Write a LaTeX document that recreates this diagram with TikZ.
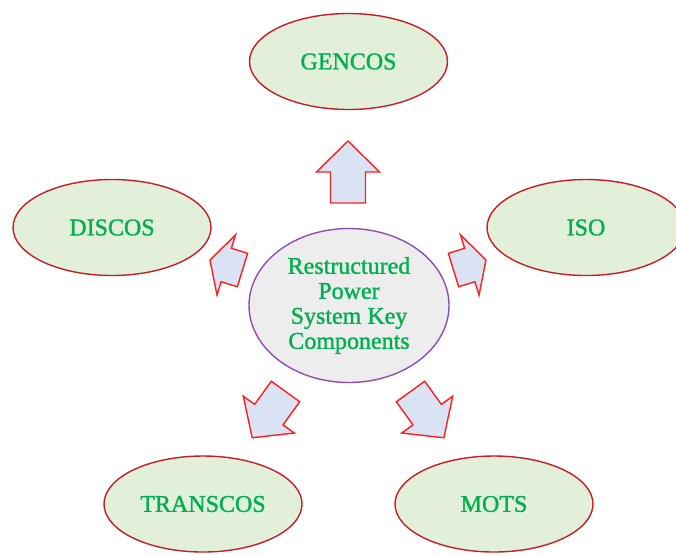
\documentclass[tikz,border=0pt]{standalone}
\usepackage{fontspec}
\setmainfont{Liberation Serif}
\newfontfamily\labelfont[FakeBold=1.3]{Liberation Serif}
\definecolor{txtgreen}{RGB}{0,176,80}
\definecolor{ellfill}{RGB}{226,239,217}
\definecolor{ellborder}{RGB}{196,30,40}
\definecolor{cenfill}{RGB}{237,237,237}
\definecolor{cenborder}{RGB}{140,80,180}
\definecolor{arrfill}{RGB}{218,227,243}
\definecolor{arrborder}{RGB}{255,30,30}
\tikzset{
  outerell/.style={draw=ellborder, fill=ellfill, line width=1.4pt, ellipse, minimum width=198pt, minimum height=96pt, inner sep=0pt, text=txtgreen, font=\labelfont\fontsize{24}{25}\selectfont},
  centerell/.style={draw=cenborder, fill=cenfill, line width=1.4pt, ellipse, minimum width=200pt, minimum height=154pt, inner sep=0pt, text=txtgreen, font=\labelfont\fontsize{24}{25}\selectfont, align=center},
  arrsty/.style={draw=arrborder, fill=arrfill, line width=1.4pt, line join=miter},
  pics/blockarrow/.style={code={
    \path[arrsty] (0,-17.5) -- ({#1/2},-17.5) -- ({#1/2},-31.5) -- (#1,0) -- ({#1/2},31.5) -- ({#1/2},17.5) -- (0,17.5) -- cycle;
  }}
}
\usetikzlibrary{shapes.geometric}
\begin{document}
\begin{tikzpicture}[x=1pt,y=1pt]
\useasboundingbox (0,0) rectangle (676,-555);
\clip (0,0) rectangle (676,-555);
\fill[white] (0,0) rectangle (676,-555);
\node[centerell] (center) at (349,-305.5) {Restructured\\Power\\System Key\\Components};
\node[outerell] (gencos) at (348.5,-61.5) {GENCOS};
\node[outerell] (discos) at (112,-227.5) {DISCOS};
\node[outerell] (iso) at (586,-227.5) {ISO};
\node[outerell] (transcos) at (203,-504) {TRANSCOS};
\node[outerell] (mots) at (494,-504) {MOTS};
\pic[rotate=90] at (348,-203) {blockarrow=62};
\pic[rotate=162.9] at (242.5,-270) {blockarrow=34};
\pic[rotate=17.1] at (453.5,-270) {blockarrow=34};
\pic[rotate=-54.2] at (410.5,-391.5) {blockarrow=57};
\pic[rotate=-125.8] at (285.5,-391.5) {blockarrow=57};
\end{tikzpicture}
\end{document}
